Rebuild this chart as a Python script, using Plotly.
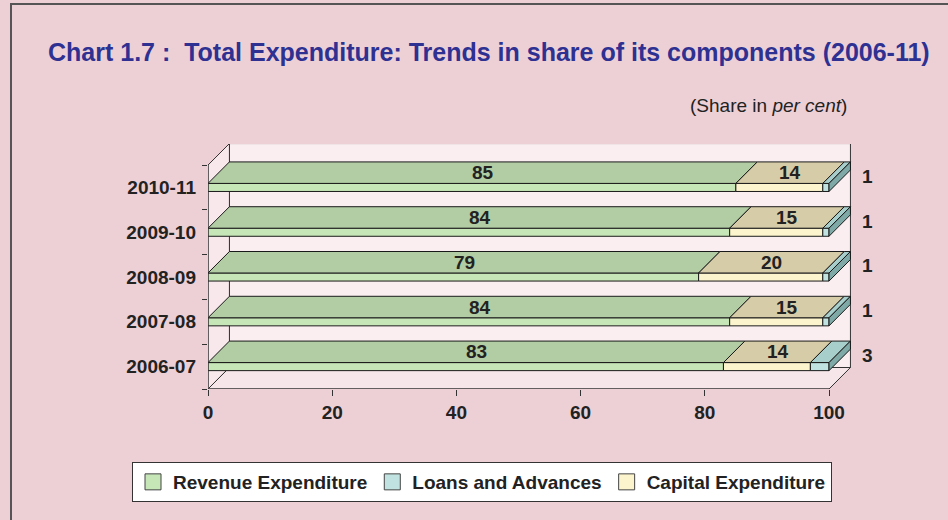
import plotly.graph_objects as go

# ---------------- data ----------------
years = ["2006-07", "2007-08", "2008-09", "2009-10", "2010-11"]
revenue = [83, 84, 79, 84, 85]
capital = [14, 15, 20, 15, 14]
loans = [3, 1, 1, 1, 1]
x_ticks = [0, 20, 40, 60, 80, 100]

# ---------------- style ----------------
FONT = "Liberation Sans, Arial, sans-serif"
TXT = "#222222"
DX, DY, H = 3.45, 0.48, 0.18   # 3D depth offsets (data units) and bar thickness

series = [
    # name, values, front colour, top colour, side colour, label?
    ("Revenue Expenditure", revenue, "#c6e6b7", "#b2cca4", "#9fbb92", True),
    ("Capital Expenditure", capital, "#fcf4cc", "#d6cca8", "#c0b690", True),
    ("Loans and Advances", loans, "#c0e3e1", "#a8cecb", "#7ea9a6", False),
]

fig = go.Figure()

n = len(years)
yr = [-0.5, 4.97]
xr = [0, 103.7]

shapes = []
def poly(pts, fill, lw=1):
    d = "M " + " L ".join(f"{x},{y}" for x, y in pts) + " Z"
    return dict(type="path", path=d, xref="x", yref="y", fillcolor=fill,
                line=dict(color="#333333", width=lw), layer="below")

y_lo, y_hi = -0.5, n - 0.5
shapes.append(poly([(DX, y_lo + DY), (100 + DX, y_lo + DY), (100 + DX, y_hi + DY), (DX, y_hi + DY)], "#fbeef0"))
shapes.append(poly([(0, y_lo), (0, y_hi), (DX, y_hi + DY), (DX, y_lo + DY)], "#f8e8eb"))
shapes.append(poly([(0, y_lo), (100, y_lo), (100 + DX, y_lo + DY), (DX, y_lo + DY)], "#f6e6e9"))

# outer frame
shapes.append(dict(type="rect", xref="paper", yref="paper",
                   x0=(11 - 208) / 644, x1=(960 - 208) / 644,
                   y0=(389 - 540) / 245, y1=(389 - 4) / 245,
                   line=dict(color="#555555", width=2), fillcolor="rgba(0,0,0,0)", layer="below"))

annotations = []
starts = [0] * n
for k, (name, vals, fc, tc, sc, lab) in enumerate(series):
    fx, fy, tx, ty = [], [], [], []
    for i, v in enumerate(vals):
        x0 = starts[i]
        x1 = x0 + v
        yb, yt = i - H / 2, i + H / 2
        fx += [x0, x1, x1, x0, x0, None]
        fy += [yb, yb, yt, yt, yb, None]
        tx += [x0, x1, x1 + DX, x0 + DX, x0, None]
        ty += [yt, yt, yt + DY, yt + DY, yt, None]
        if lab:
            annotations.append(dict(x=(x0 + x1) / 2 + DX / 2, y=yt + DY / 2, xref="x", yref="y",
                                    text=str(v), showarrow=False,
                                    font=dict(family=FONT, size=19, color=TXT, weight=700)))
        else:
            annotations.append(dict(x=x1 + DX, y=i + 0.25, xref="x", yref="y", xshift=17,
                                    text=str(v), showarrow=False,
                                    font=dict(family=FONT, size=19, color=TXT, weight=700)))
        starts[i] = x1
    fig.add_trace(go.Scatter(x=fx, y=fy, mode="lines", fill="toself", fillcolor=fc,
                             line=dict(color="#1a1a1a", width=1), showlegend=False, hoverinfo="skip"))
    fig.add_trace(go.Scatter(x=tx, y=ty, mode="lines", fill="toself", fillcolor=tc,
                             line=dict(color="#1a1a1a", width=1), showlegend=False, hoverinfo="skip"))

# end (side) faces of the stacked bars
sx, sy = [], []
for i in range(n):
    x1 = starts[i]
    yb, yt = i - H / 2, i + H / 2
    sx += [x1, x1 + DX, x1 + DX, x1, x1, None]
    sy += [yb, yb + DY, yt + DY, yt, yb, None]
fig.add_trace(go.Scatter(x=sx, y=sy, mode="lines", fill="toself", fillcolor=series[2][4],
                         line=dict(color="#1a1a1a", width=1), showlegend=False, hoverinfo="skip"))

# legend entries
legend_order = ["Revenue Expenditure", "Loans and Advances", "Capital Expenditure"]
for name, vals, fc, tc, sc, lab in series:
    fig.add_trace(go.Scatter(x=[None], y=[None], mode="markers", name=name,
                             legendrank=legend_order.index(name) + 1,
                             marker=dict(symbol="square", size=16, color=fc,
                                         line=dict(color="#444444", width=1))))

# axis lines
shapes.append(dict(type="line", xref="x", yref="y", x0=0, x1=100, y0=y_lo, y1=y_lo,
                   line=dict(color="#333333", width=1)))
shapes.append(dict(type="line", xref="x", yref="y", x0=0, x1=0, y0=y_lo, y1=y_hi,
                   line=dict(color="#333333", width=1)))

# title & subtitle
annotations.append(dict(xref="paper", yref="paper", x=(489 - 208) / 644, y=(389 - 52) / 245,
                        text="Chart 1.7 :\u00a0 Total Expenditure: Trends in share of its components (2006-11)",
                        showarrow=False, xanchor="center", yanchor="middle",
                        font=dict(family=FONT, size=25, color="#2e3192", weight=700)))
annotations.append(dict(xref="paper", yref="paper", x=(849 - 208) / 644, y=(389 - 106) / 245,
                        text="(Share in <i>per cent</i>)", showarrow=False,
                        xanchor="right", yanchor="middle",
                        font=dict(family=FONT, size=19, color=TXT)))

fig.update_layout(
    width=948, height=520,
    margin=dict(l=208, r=96, t=144, b=131, autoexpand=False),
    paper_bgcolor="#edd0d6",
    plot_bgcolor="rgba(0,0,0,0)",
    shapes=shapes,
    annotations=annotations,
    showlegend=True,
    legend=dict(orientation="h", xanchor="left", yanchor="top",
                x=(132 - 208) / 644, y=(389 - 462) / 245,
                bgcolor="#ffffff", bordercolor="#333333", borderwidth=1,
                font=dict(family=FONT, size=19, color=TXT, weight=700),
                itemsizing="trace", tracegroupgap=0, itemwidth=30),
    xaxis=dict(range=xr, tickvals=x_ticks, ticktext=[str(v) for v in x_ticks],
               ticks="outside", ticklen=6, tickcolor="#333333", showgrid=False,
               zeroline=False, showline=False, fixedrange=True,
               tickfont=dict(family=FONT, size=19, color=TXT, weight=700)),
    yaxis=dict(range=yr, tickvals=list(range(n)), ticktext=years, ticks="",
               showgrid=False, zeroline=False, showline=False, ticklabelstandoff=11,
               fixedrange=True,
               minor=dict(tick0=0.5, dtick=1, ticks="outside", ticklen=5, tickcolor="#333333"),
               tickfont=dict(family=FONT, size=19, color=TXT, weight=700)),
)

fig.write_html("out.html", config={"displayModeBar": False},
               post_script="document.body.style.margin='0';document.body.style.padding='0';")
